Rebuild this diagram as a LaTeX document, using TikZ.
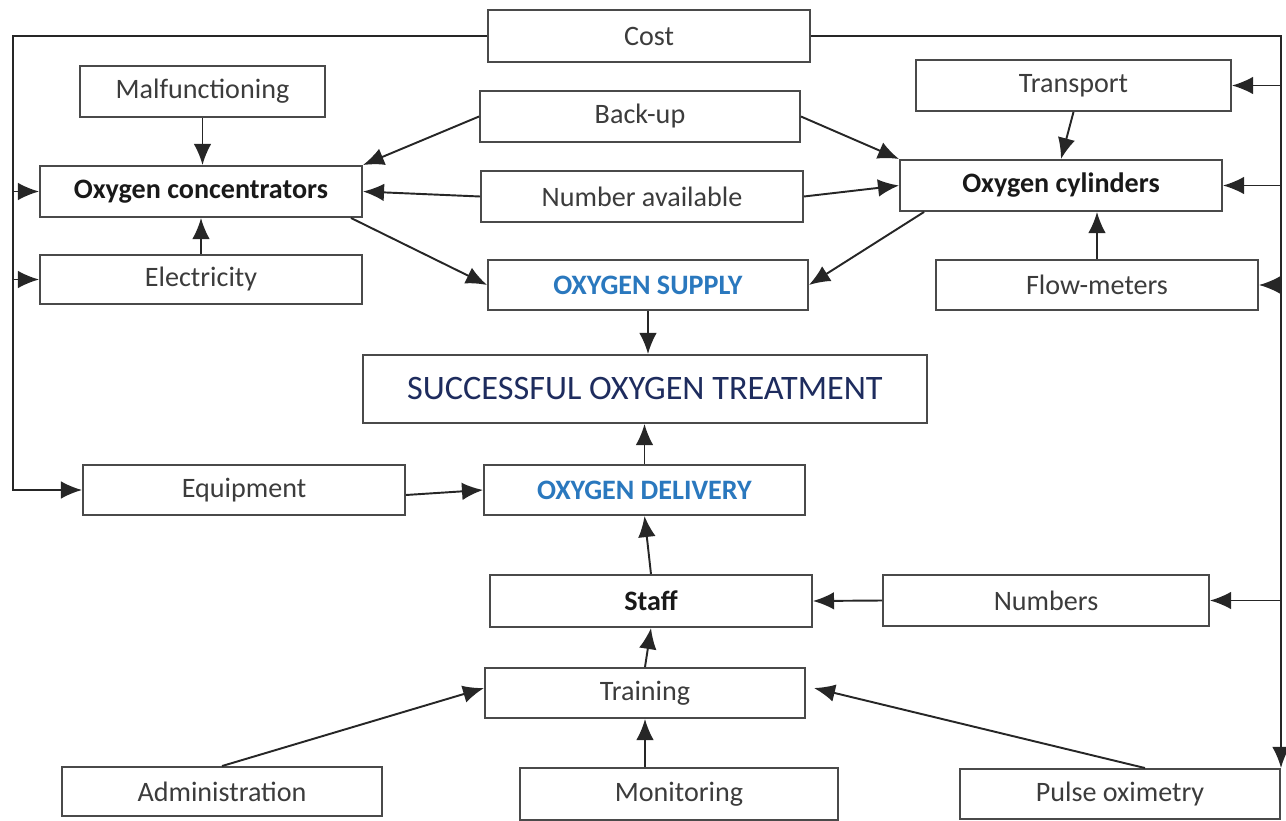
\documentclass[tikz,border=0pt]{standalone}
\usepackage{fontspec}
\setmainfont{Carlito}
\usetikzlibrary{arrows.meta}

\definecolor{boxline}{HTML}{4A4A4A}
\definecolor{textgray}{HTML}{3C3C3C}
\definecolor{supplyblue}{HTML}{2A78BE}
\definecolor{navy}{HTML}{1E2C5E}

\tikzset{
  box/.style={draw=boxline, line width=1.1pt, fill=white, inner sep=0pt,
    text=textgray, font=\fontsize{16}{19}\selectfont},
  mainbox/.style={box, text=black!90, font=\fontsize{16}{19}\selectfont\bfseries},
  bluebox/.style={box, text=supplyblue, font=\fontsize{16}{19}\selectfont\bfseries},
  arr/.style={draw=black!85, line width=1.1pt, -{Latex[length=12pt,width=10pt]}},
}

\begin{document}
\begin{tikzpicture}[x=0.02cm, y=-0.02cm]

      \useasboundingbox (0,0) rectangle (1286,821);

      % Titik sudut jalur luar
      \coordinate (tl) at (13,36);
      \coordinate (tr) at (1281,36);

      % Kotak atas
      \node[box, minimum width=6.44cm, minimum height=1.04cm] (cost) at (649,36) {Cost};
      \node[box, minimum width=4.9cm, minimum height=1.02cm] (malf) at (202.5,91.5) {Malfunctioning};
      \node[box, minimum width=6.4cm, minimum height=1.02cm] (backup) at (640,116.5) {Back-up};
      \node[box, minimum width=6.3cm, minimum height=1.02cm] (transport) at (1073.5,85.5) {Transport};

      % Kotak oksigen
      \node[mainbox, minimum width=6.44cm, minimum height=1.02cm] (conc) at (201,191.5) {Oxygen concentrators};
      \node[box, minimum width=6.44cm, minimum height=1.02cm] (numavail) at (642,196.5) {Number available};
      \node[mainbox, minimum width=6.44cm, minimum height=1.02cm] (cyl) at (1061,185.5) {Oxygen cylinders};
      \node[box, minimum width=6.44cm, minimum height=0.98cm] (elec) at (201,279.5) {Electricity};
      \node[bluebox, minimum width=6.4cm, minimum height=1cm] (supply) at (648,285) {OXYGEN SUPPLY};
      \node[box, minimum width=6.44cm, minimum height=1cm] (flow) at (1097,285) {Flow-meters};

      % Kotak tengah
      \node[box, text=navy, font=\fontsize{19.5}{23}\selectfont, minimum width=11.28cm, minimum height=1.36cm] (succ) at (645,389) {SUCCESSFUL OXYGEN TREATMENT};
      \node[box, minimum width=6.44cm, minimum height=1cm] (equip) at (244,490) {Equipment};
      \node[bluebox, minimum width=6.42cm, minimum height=1cm] (delivery) at (644.5,490) {OXYGEN DELIVERY};

      % Kotak bawah
      \node[mainbox, minimum width=6.44cm, minimum height=1.04cm] (staff) at (651,601) {Staff};
      \node[box, minimum width=6.52cm, minimum height=1.02cm] (numbers) at (1046,600.5) {Numbers};
      \node[box, minimum width=6.4cm, minimum height=1cm] (training) at (645,693) {Training};
      \node[box, minimum width=6.4cm, minimum height=0.98cm] (admin) at (222,791.5) {Administration};
      \node[box, minimum width=6.36cm, minimum height=1.04cm] (monit) at (679,794) {Monitoring};
      \node[box, minimum width=6.4cm, minimum height=1cm] (pulse) at (1120,794) {Pulse oximetry};

      % Jalur kiri dari Cost
      \draw[arr] (cost.west) -- (tl) |- (equip.west);
      \draw[arr] (tl |- conc) -- (conc.west);
      \draw[arr] (tl |- elec) -- (elec.west);

      % Jalur kanan dari Cost
      \draw[arr] (cost.east) -- (tr) -- (tr |- pulse.north);
      \draw[arr] (tr |- transport) -- (transport.east);
      \draw[arr] (tr |- cyl) -- (cyl.east);
      \draw[arr] (tr |- flow) -- (flow.east);
      \draw[arr] (tr |- numbers) -- (numbers.east);

      % Panah ke konsentrator dan silinder
      \draw[arr] (malf.south) -- (malf.south |- conc.north);
      \draw[arr] (elec.north) -- (conc.south);
      \draw[arr] (backup.west) -- (conc.north east);
      \draw[arr] (backup.east) -- (cyl.north west);
      \draw[arr] (numavail.west) -- (conc.east);
      \draw[arr] (numavail.east) -- (cyl.west);
      \draw[arr] (transport.south) -- (cyl.north);
      \draw[arr] (flow.north) -- (flow.north |- cyl.south);

      % Panah ke supply dan treatment
      \draw[arr] ([xshift=-0.24cm]conc.south east) -- (supply.west);
      \draw[arr] ([xshift=0.5cm]cyl.south west) -- (supply.east);
      \draw[arr] (supply.south) -- (supply.south |- succ.north);
      \draw[arr] (delivery.north) -- (delivery.north |- succ.south);
      \draw[arr] ([yshift=-0.1cm]equip.east) -- (delivery.west);

      % Panah staf dan pelatihan
      \draw[arr] (staff.north) -- (delivery.south);
      \draw[arr] (numbers.west) -- (staff.east);
      \draw[arr] (training.north) -- (staff.south);
      \draw[arr] (training.south |- monit.north) -- (training.south);
      \draw[arr] (admin.north) -- ([yshift=0.1cm]training.west);
      \draw[arr] ([xshift=0.5cm]pulse.north) -- ([xshift=0.16cm,yshift=0.1cm]training.east);

    \end{tikzpicture}
\end{document}
